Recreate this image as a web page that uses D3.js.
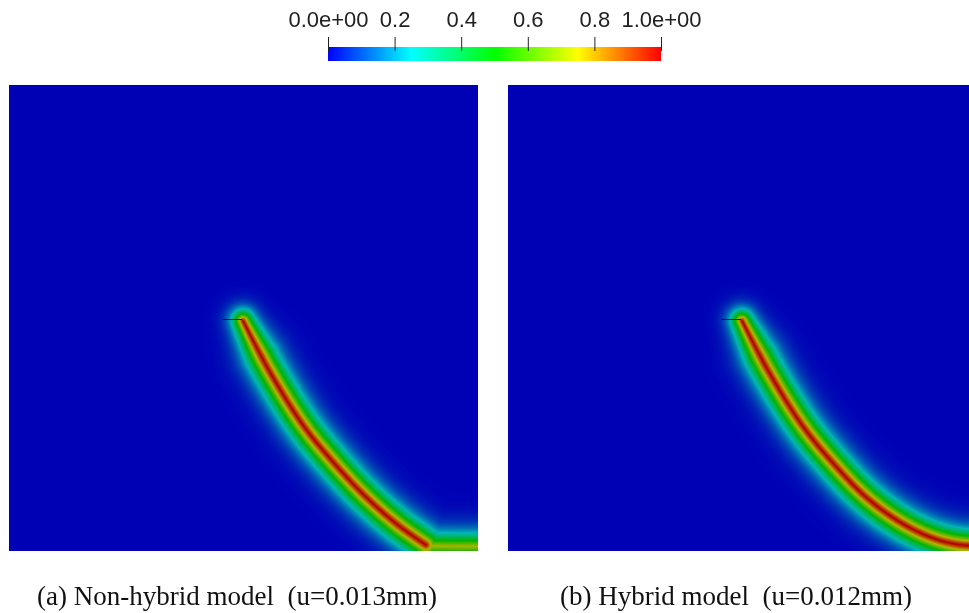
<!DOCTYPE html>
<html><head><meta charset="utf-8">
<script src="https://cdn.jsdelivr.net/npm/d3@7"></script>
<style>
html,body{margin:0;padding:0;background:#fff;overflow:hidden;}
#wrap{position:relative;width:969px;height:613px;}
canvas{position:absolute;}
svg{position:absolute;left:0;top:0;}
</style></head>
<body><div id="wrap"></div>
<script>
// ---- data ----
const colorbarTicks = [0, 0.2, 0.4, 0.6, 0.8, 1.0];
const colorbarLabels = ["0.0e+00", "0.2", "0.4", "0.6", "0.8", "1.0e+00"];
const captions = ["(a) Non-hybrid model  (u=0.013mm)", "(b) Hybrid model  (u=0.012mm)"];
// crack centre lines in specimen coordinates (0..1, y up)
const crackA_x = [0.499, 0.554, 0.627, 0.691, 0.761, 0.829, 0.889];
const crackA_y = [0.494, 0.388, 0.270, 0.191, 0.116, 0.056, 0.013];
const branchA_x = [0.889, 0.95, 1.02];
const branchA_y = [0.011, 0.010, 0.010];
const branchA_peak = 0.72;
const crackB_x = [0.499, 0.554, 0.627, 0.691, 0.763, 0.836, 0.900, 0.953, 0.996, 1.03];
const crackB_y = [0.494, 0.388, 0.270, 0.191, 0.116, 0.062, 0.030, 0.015, 0.011, 0.011];
const notch_x = [0.455, 0.497];
const notch_y = [0.498, 0.498];

// ---- layout ----
const W = 969, H = 613;
const panelW = 469, panelH = 466;
const panels = [
  {x0: 9, y0: 85, cracks: [{xs: crackA_x, ys: crackA_y, peak: 1, tip: true}, {xs: branchA_x, ys: branchA_y, peak: branchA_peak, tip: false}], caption: captions[0], cx: 237},
  {x0: 508, y0: 85, cracks: [{xs: crackB_x, ys: crackB_y, peak: 1, tip: true}], caption: captions[1], cx: 736}
];
const sx = d3.scaleLinear().domain([0, 1]).range([0, panelW]);
const sy = d3.scaleLinear().domain([0, 1]).range([panelH, 0]);
const color = d3.scaleSequential(d3.interpolateHslLong("blue", "red")).domain([0, 1]);
const shade = 0.71;
const sWidth = 13; // px, profile width
const sExp = 1.25;

const wrap = d3.select("#wrap");
const svg = wrap.append("svg").attr("width", W).attr("height", H);
const tmp = svg.append("g").attr("visibility", "hidden");

function densify(xs, ys) {
  const line = d3.line().x(d => sx(d[0])).y(d => sy(d[1])).curve(d3.curveCatmullRom.alpha(0.5));
  const p = tmp.append("path").attr("d", line(xs.map((v, i) => [v, ys[i]]))).node();
  const L = p.getTotalLength();
  const pts = [];
  const n = Math.max(2, Math.ceil(L / 2));
  for (let i = 0; i <= n; i++) { const q = p.getPointAtLength(L * i / n); pts.push([q.x, q.y, L * i / n]); }
  return pts;
}

panels.forEach(pn => {
  const segsets = pn.cracks.map(c => {
    const pts = densify(c.xs, c.ys);
    // width multiplier: slightly narrower near the crack tip
    const wm = pts.map(p => c.tip ? 0.72 + 0.28 * Math.min(1, p[2] / 40) : 1);
    return {pts, wm, peak: c.peak};
  });
  const cv = wrap.insert("canvas", "svg").attr("width", panelW).attr("height", panelH)
    .style("left", pn.x0 + "px").style("top", pn.y0 + "px").node();
  const ctx = cv.getContext("2d");
  const img = ctx.createImageData(panelW, panelH);
  const lut = d3.range(256).map(i => d3.rgb(color(i / 255)));
  const cut2 = (5 * sWidth) * (5 * sWidth);
  for (let j = 0; j < panelH; j++) {
    for (let i = 0; i < panelW; i++) {
      const px = i + 0.5, py = j + 0.5;
      let phi = 0;
      for (const ss of segsets) {
        const pts = ss.pts, wm = ss.wm;
        for (let k = 0; k < pts.length - 1; k++) {
          const ax = pts[k][0], ay = pts[k][1], bx = pts[k + 1][0], by = pts[k + 1][1];
          const vx = bx - ax, vy = by - ay;
          const wx = px - ax, wy = py - ay;
          let t = (wx * vx + wy * vy) / (vx * vx + vy * vy);
          t = t < 0 ? 0 : t > 1 ? 1 : t;
          const dx = wx - t * vx, dy = wy - t * vy;
          const d2 = dx * dx + dy * dy;
          if (d2 > cut2) continue;
          const w = wm[k] + (wm[k + 1] - wm[k]) * t;
          const v = ss.peak * Math.exp(-Math.pow(Math.sqrt(d2) / (sWidth * w), sExp));
          if (v > phi) phi = v;
        }
      }
      const c = lut[Math.round(Math.min(1, phi) * 255)];
      const o = (j * panelW + i) * 4;
      img.data[o] = c.r * shade; img.data[o + 1] = c.g * shade; img.data[o + 2] = c.b * shade; img.data[o + 3] = 255;
    }
  }
  ctx.putImageData(img, 0, 0);
  // notch
  ctx.strokeStyle = "rgba(0,0,60,0.8)";
  ctx.lineWidth = 1;
  ctx.beginPath();
  ctx.moveTo(sx(notch_x[0]), Math.round(sy(notch_y[0])) + 0.5);
  ctx.lineTo(sx(notch_x[1]), Math.round(sy(notch_y[1])) + 0.5);
  ctx.stroke();

  svg.append("text").attr("x", pn.cx).attr("y", 605).attr("text-anchor", "middle")
    .attr("font-family", "'Liberation Serif', 'Times New Roman', serif").attr("font-size", 27)
    .attr("fill", "#111").style("white-space", "pre").attr("xml:space", "preserve")
    .text(pn.caption);
});
tmp.remove();

// ---- colour bar ----
const cb = {x0: 328, x1: 661, y: 47, h: 14};
const cbScale = d3.scaleLinear().domain([0, 1]).range([cb.x0, cb.x1]);
const grad = svg.append("defs").append("linearGradient").attr("id", "cbg");
d3.range(0, 1.0001, 0.05).forEach(t => grad.append("stop").attr("offset", t).attr("stop-color", color(t)));
svg.append("rect").attr("x", cb.x0).attr("y", cb.y).attr("width", cb.x1 - cb.x0).attr("height", cb.h).attr("fill", "url(#cbg)");
const axis = d3.axisTop(cbScale).tickValues(colorbarTicks).tickFormat((d, i) => colorbarLabels[i]).tickSize(14).tickPadding(10);
const ax = svg.append("g").attr("transform", `translate(0,${cb.y + 4})`).call(axis);
ax.select(".domain").remove();
ax.selectAll(".tick line").attr("stroke", "#222").attr("stroke-width", 1);
ax.selectAll(".tick text").attr("font-family", "'Liberation Sans', Arial, sans-serif").attr("font-size", 22).attr("fill", "#222");
</script></body></html>
